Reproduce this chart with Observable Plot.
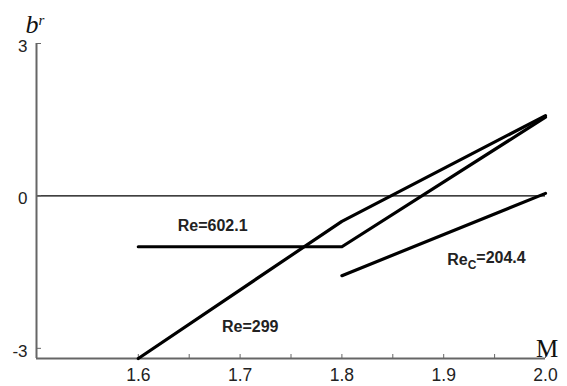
<!DOCTYPE html>
<html>
<head>
<meta charset="utf-8">
<script src="https://cdn.jsdelivr.net/npm/d3@7"></script>
<script src="https://cdn.jsdelivr.net/npm/@observablehq/plot@0.6"></script>
<style>
  html, body { margin: 0; padding: 0; background: #fff; }
  #chart { width: 567px; height: 386px; }
</style>
</head>
<body>
<div id="chart"></div>
<script>
// ---- data ----
const M_299 = [1.6, 1.8, 2.0];
const b_299 = [-3.2, -0.5, 1.58];
const M_602 = [1.6, 1.8, 2.0];
const b_602 = [-1.0, -1.0, 1.55];
const M_C = [1.8, 2.0];
const b_C = [-1.57, 0.05];

const xMajorTicks = [1.6, 1.7, 1.8, 1.9, 2.0];
const xMinorTicks = [1.65, 1.75, 1.85, 1.95];
const yTicks = [3, 0, -3];

const labelText = ["Re=602.1", "Re=299", "ReC=204.4"];
const labelM = [1.673, 1.71, 1.942];
const labelB = [-0.58, -2.57, -1.25];

// ---- build table ----
const rows = [];
M_299.forEach((m, i) => rows.push({series: "Re=299", M: m, b: b_299[i]}));
M_602.forEach((m, i) => rows.push({series: "Re=602.1", M: m, b: b_602[i]}));
M_C.forEach((m, i) => rows.push({series: "ReC=204.4", M: m, b: b_C[i]}));
const labels = labelText.map((t, i) => ({text: t, M: labelM[i], b: labelB[i]}));

const sans = "Liberation Sans, Arial, sans-serif";
const axisColor = "#666";

const plot = Plot.plot({
  width: 567,
  height: 386,
  marginLeft: 36,
  marginRight: 22,
  marginTop: 43,
  marginBottom: 28,
  style: {fontFamily: sans, background: "white", color: "#222"},
  x: {domain: [1.5, 2.0], label: null},
  y: {domain: [-3.2, 3], label: null},
  marks: [
    Plot.ruleY([0], {stroke: "black", strokeWidth: 1.4}),
    Plot.ruleX([1.5], {y1: -3.2, y2: 3, stroke: axisColor, strokeWidth: 2}),
    Plot.ruleY([-3.2], {stroke: axisColor, strokeWidth: 2}),
    Plot.axisX(xMinorTicks, {tickSize: -4, stroke: axisColor, tickFormat: () => "", label: null}),
    Plot.axisX(xMajorTicks, {tickSize: -4, stroke: axisColor, tickFormat: () => "", label: null}),
    Plot.axisX(xMajorTicks, {tickSize: 0, tickPadding: 10, tickFormat: d => d.toFixed(1), fontSize: 17.5, fill: "#222", label: null}),
    Plot.axisY(yTicks, {tickSize: -5, stroke: axisColor, tickFormat: () => "", label: null}),
    Plot.axisY(yTicks, {tickSize: 0, tickPadding: 9, dy: 3, tickFormat: d => String(d), fontSize: 17, fill: "#222", label: null}),
    Plot.line(rows, {x: "M", y: "b", z: "series", stroke: "black", strokeWidth: 3.2}),
    Plot.text(labels, {x: "M", y: "b", text: "text", fontSize: 16, fontWeight: "bold", fill: "#222", textAnchor: "middle"})
  ]
});

const svg = d3.select(plot);
// subscript C
svg.selectAll("text").each(function() {
  if (this.textContent === "ReC=204.4") {
    const t = d3.select(this);
    t.text("");
    t.append("tspan").text("Re");
    t.append("tspan").attr("font-size", 12).attr("dy", "0.35em").text("C");
    t.append("tspan").attr("dy", "-0.35em").text("=204.4");
  }
});
// axis titles
const yt = svg.append("text").attr("x", 35).attr("y", 33)
  .attr("font-family", "Liberation Serif, Times New Roman, serif")
  .attr("font-style", "italic").attr("font-size", 26).attr("fill", "#111");
yt.append("tspan").text("b");
yt.append("tspan").attr("font-size", 15).attr("dy", "-0.55em").text("r");
svg.append("text").attr("x", 547).attr("y", 357)
  .attr("font-family", "Liberation Serif, Times New Roman, serif")
  .attr("font-size", 25).attr("fill", "#111").text("M");

document.getElementById("chart").appendChild(plot);
</script>
</body>
</html>
